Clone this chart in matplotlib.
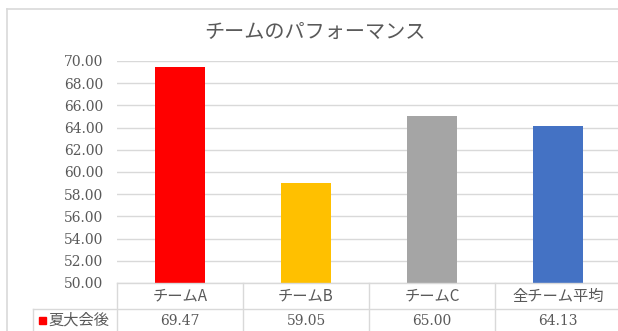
import matplotlib
matplotlib.use("Agg")
import matplotlib.pyplot as plt
from matplotlib.transforms import blended_transform_factory
from matplotlib.lines import Line2D
from matplotlib.patches import Rectangle

# data
categories = ['チームA', 'チームB', 'チームC', '全チーム平均']
values = [69.47, 59.05, 65.00, 64.13]
bar_colors = ['#FF0000', '#FFC000', '#A5A5A5', '#4472C4']
series_name = '夏大会後'
title = 'チームのパフォーマンス'
y_ticks = [50, 52, 54, 56, 58, 60, 62, 64, 66, 68, 70]

W, H = 618, 331
jp = ['Noto Sans CJK JP', 'DejaVu Sans']
num_font = 'DejaVu Serif'
txt_col = '#595959'
grid_col = '#d9d9d9'

fig = plt.figure(figsize=(W / 100, H / 100), dpi=100)
fig.patch.set_facecolor('white')

def fx(px):
    return px / W

def fy(py):
    return 1 - py / H

# plot area (extends a bit past right edge, as in the crop)
ax = fig.add_axes([fx(117), fy(283), (621 - 117) / W, (283 - 61) / H])
x = list(range(len(categories)))
ax.bar(x, values, width=0.4, color=bar_colors, zorder=3)
ax.set_xlim(-0.5, len(categories) - 0.5)
ax.set_ylim(50, 70)
ax.set_yticks(y_ticks)
ax.set_yticklabels([f'{v:.2f}' for v in y_ticks], fontsize=10,
                   family=num_font, color=txt_col)
ax.tick_params(axis='y', length=0, pad=10)
ax.set_xticks([])
for s in ax.spines.values():
    s.set_visible(False)
ax.yaxis.grid(True, color=grid_col, lw=1, zorder=0)

# chart border
fig.add_artist(Line2D([fx(6.5), fx(6.5)], [fy(9), fy(340)], color=grid_col, lw=1.2))
fig.add_artist(Line2D([fx(6.5), fx(630)], [fy(9), fy(9)], color=grid_col, lw=1.2))

# title
fig.text(fx(315), fy(32), title, ha='center', va='center', fontsize=14.5,
         family=jp, color=txt_col)

# data table
top, mid, bot = 283, 309, 340
fig.add_artist(Line2D([fx(117), fx(630)], [fy(top), fy(top)], color=grid_col, lw=1))
fig.add_artist(Line2D([fx(33), fx(630)], [fy(mid), fy(mid)], color=grid_col, lw=1))
fig.add_artist(Line2D([fx(33), fx(33)], [fy(mid), fy(bot)], color=grid_col, lw=1))
trans_v = blended_transform_factory(ax.transData, fig.transFigure)
for k in range(len(categories) + 1):
    ax.add_artist(Line2D([k - 0.5, k - 0.5], [fy(top), fy(bot)], transform=trans_v,
                         color=grid_col, lw=1, clip_on=False))
for i, (c, v) in enumerate(zip(categories, values)):
    ax.text(i, fy(296), c, transform=trans_v, ha='center', va='center',
            fontsize=11, family=jp, color=txt_col)
    ax.text(i, fy(321), f'{v:.2f}', transform=trans_v, ha='center', va='center',
            fontsize=10, family=num_font, color=txt_col)

# legend key in the table
fig.add_artist(Rectangle((fx(38.5), fy(324)), 7 / W, 7 / H, color=bar_colors[0],
                         transform=fig.transFigure))
fig.text(fx(48), fy(320), series_name, ha='left', va='center', fontsize=11,
         family=jp, color=txt_col)

fig.savefig('out.png', dpi=100)
